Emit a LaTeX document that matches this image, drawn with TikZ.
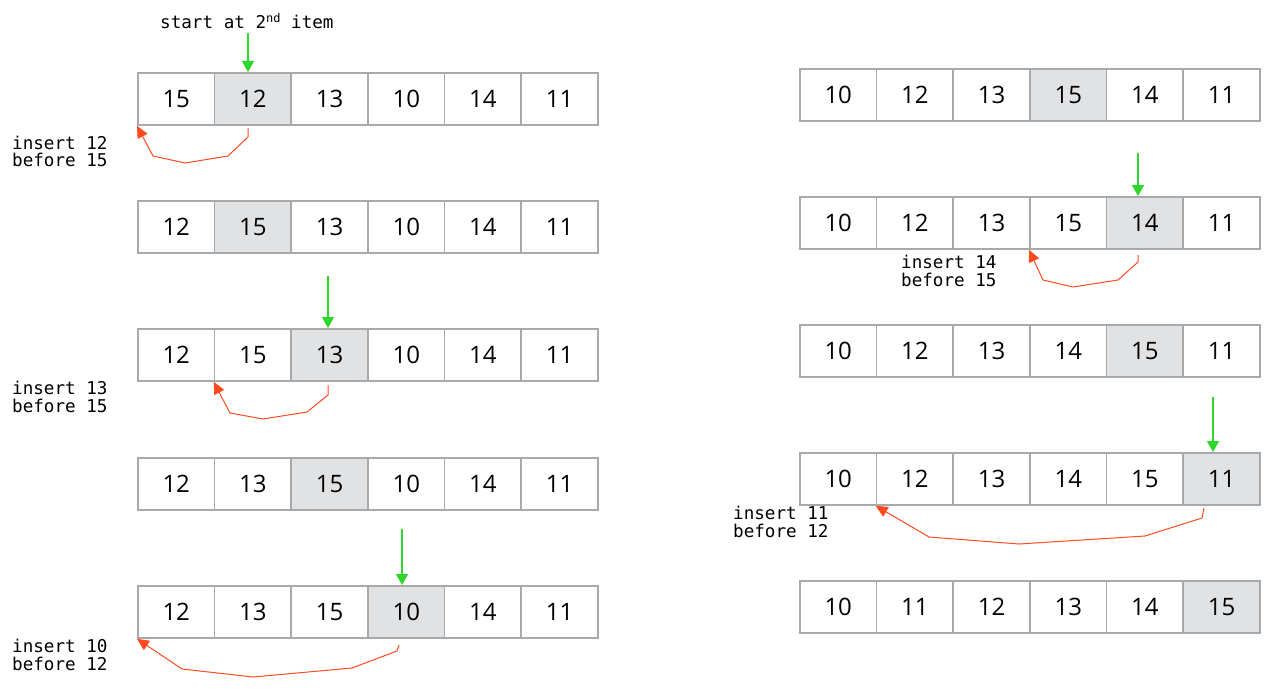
\documentclass[tikz,border=0pt]{standalone}
\usepackage{fontspec}
\setmainfont{Open Sans}
\newfontfamily\monofont{DejaVu Sans Mono}
\usetikzlibrary{arrows.meta}
\definecolor{cellgray}{HTML}{E1E2E4}
\definecolor{cellborder}{HTML}{A9A9A9}
\definecolor{arrgreen}{HTML}{2ED62E}
\definecolor{arrred}{HTML}{FF4A1F}
\begin{document}
\begin{tikzpicture}[x=1pt,y=-1pt,
  cell/.style={draw=cellborder, line width=1.8pt, minimum width=76.67pt, minimum height=52pt,
    inner sep=0pt, anchor=north west, font=\fontsize{24}{24}\selectfont},
  greenarrow/.style={draw=arrgreen, line width=1.3pt, -{Triangle[length=11pt,width=12pt]}},
  redarrow/.style={draw=arrred, line width=1pt, line join=round, -{Triangle[length=12pt,width=11pt]}},
  note/.style={font=\monofont\fontsize{17.6}{17.5}\selectfont, align=left, inner sep=0pt, anchor=west}]
\fill[white] (0,0) rectangle (1275,693);
\useasboundingbox (0,0) rectangle (1275,693);
% arrays
\foreach \n/\x/\y/\vals/\hi in {
  L1/137/72/{15,12,13,10,14,11}/2,
  L2/137/200/{12,15,13,10,14,11}/2,
  L3/137/328/{12,15,13,10,14,11}/3,
  L4/137/457/{12,13,15,10,14,11}/3,
  L5/137/585/{12,13,15,10,14,11}/4,
  R1/799/68/{10,12,13,15,14,11}/4,
  R2/799/196/{10,12,13,15,14,11}/5,
  R3/799/324/{10,12,13,14,15,11}/5,
  R4/799/452/{10,12,13,14,15,11}/6,
  R5/799/580/{10,11,12,13,14,15}/6}{
  \foreach \v [count=\i] in \vals {
    \ifnum\i=\hi\def\fc{cellgray}\else\def\fc{white}\fi
    \node[cell, fill=\fc] (\n c\i) at ({\x+(\i-1)*76.67},\y) {\v};
  }
}
% labels
\node[note] (tstart) at (160,21) {start at 2\raisebox{0.6ex}{\fontsize{12}{12}\selectfont nd} item};
\node[note] (t1) at (12,151.5) {insert 12\\before 15};
\node[note] (t3) at (12,397) {insert 13\\before 15};
\node[note] (t5) at (12,655) {insert 10\\before 12};
\node[note] (t7) at (901,271) {insert 14\\before 15};
\node[note] (t9) at (733,522) {insert 11\\before 12};
% green arrows
\coordinate (gL1) at (248,33);
\coordinate (gL3) at (328,276);
\coordinate (gL5) at (402,529);
\coordinate (gR2) at (1138,153);
\coordinate (gR4) at (1213,397);
\draw[greenarrow] (gL1) -- (gL1 |- L1c2.north);
\draw[greenarrow] (gL3) -- (gL3 |- L3c3.north);
\draw[greenarrow] (gL5) -- (gL5 |- L5c4.north);
\draw[greenarrow] (gR2) -- (gR2 |- R2c5.north);
\draw[greenarrow] (gR4) -- (gR4 |- R4c6.north);
% red arrows
\coordinate (rL1) at (248,128);
\coordinate (rL3) at (328,385);
\coordinate (rL5) at (399,645);
\coordinate (rR2) at (1138,255);
\coordinate (rR4) at (1204,508);
\draw[redarrow] (rL1) -- (248,137) -- (228,156) -- (185,163) -- (153,156) -- (L1c1.south west);
\draw[redarrow] (rL3) -- (328,395) -- (307,412) -- (263,419) -- (230,413) -- (L3c2.south west);
\draw[redarrow] (rL5) -- (397,651) -- (352,668) -- (253,677) -- (182,669) -- (L5c1.south west);
\draw[redarrow] (rR2) -- (1138,262) -- (1118,280) -- (1073,287) -- (1043,280) -- (R2c4.south west);
\draw[redarrow] (rR4) -- (1202,518) -- (1145,536) -- (1019,544) -- (929,537) -- (R4c2.south west);
\end{tikzpicture}
\end{document}
